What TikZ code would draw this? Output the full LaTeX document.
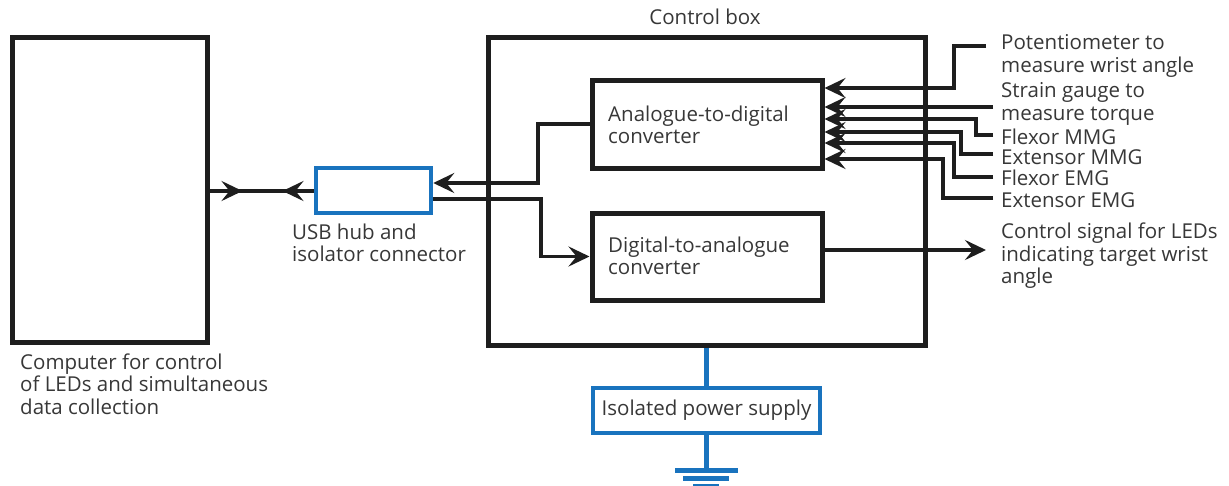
\documentclass[tikz,border=0pt]{standalone}
\usepackage{fontspec}
\setmainfont{Open Sans}
\usetikzlibrary{arrows.meta,decorations.markings}
\definecolor{ln}{RGB}{30,30,30}
\definecolor{tx}{RGB}{55,55,55}
\definecolor{bl}{RGB}{25,115,190}
\tikzset{
  box/.style={draw=ln,line width=5pt,minimum width=#1,inner sep=0pt},
  bbox/.style={draw=bl,line width=4.5pt,inner sep=0pt},
  lbl/.style={text=tx,font=\fontsize{20.5}{22.5}\selectfont,align=left,inner sep=0pt},
  wire/.style={draw=ln,line width=3.8pt},
  bwire/.style={draw=bl,line width=4.5pt},
  tip/.style={-{Stealth[length=21pt,width=20pt,inset=8pt]}},
}
\begin{document}
\begin{tikzpicture}[x=1pt,y=-1pt]
\useasboundingbox (0,0) rectangle (1229,485);
% boxes
\node[box=195pt,minimum height=305pt] (comp) at (109.5,189.5) {};
\node[box=437pt,minimum height=308pt] (cbox) at (706.5,191) {};
\node[box=230pt,minimum height=88pt] (adc) at (707,124) {};
\node[box=230pt,minimum height=87pt] (dac) at (707,256.5) {};
\node[bbox,minimum width=115pt,minimum height=45pt] (usb) at (373.5,190.5) {};
\node[bbox,minimum width=227pt,minimum height=45pt,lbl,align=center] (ps) at (706.5,410.5) {Isolated power supply};
% box texts
\node[lbl,anchor=west] (adct) at (608,125) {Analogue-to-digital\\converter};
\node[lbl,anchor=west] (dact) at (608,256) {Digital-to-analogue\\converter};
\node[lbl] (cbt) at (705,17) {Control box};
\node[lbl,anchor=west] (compt) at (20,384) {Computer for control\\of LEDs and simultaneous\\data collection};
\node[lbl,anchor=west] (usbt) at (292,243) {USB hub and\\isolator connector};
% sensor labels
\node[lbl,anchor=west] (pot) at (1001,56) {Potentiometer to\\measure wrist angle};
\node[lbl,anchor=west] (sg) at (1001,104) {Strain gauge to\\measure torque};
\node[lbl,anchor=west] (fmmg) at (1001,137) {Flexor MMG};
\node[lbl,anchor=west] (emmg) at (1001,157) {Extensor MMG};
\node[lbl,anchor=west] (femg) at (1001,178) {Flexor EMG};
\node[lbl,anchor=west] (eemg) at (1001,200) {Extensor EMG};
\node[lbl,anchor=west] (ctl) at (1001,256) {Control signal for LEDs\\indicating target wrist\\angle};
% free ends
\coordinate (potE) at (986,46);
\coordinate (sgE) at (993,107);
\coordinate (fmmgE) at (993,135);
\coordinate (emmgE) at (993,154);
\coordinate (femgE) at (993,177);
\coordinate (eemgE) at (993,198);
\coordinate (ctlE) at (986,250);
% sensor wires
\draw[wire,tip] (potE) -- (954,46) -- (954,88) -- (adc.east |- 0,88);
\draw[wire,tip] (sgE) -- (adc.east |- 0,107);
\draw[wire,tip] (fmmgE) -- (976,135) -- (976,119) -- (adc.east |- 0,119);
\draw[wire,tip] (emmgE) -- (961,154) -- (961,132) -- (adc.east |- 0,132);
\draw[wire,tip] (femgE) -- (954,177) -- (954,143) -- (adc.east |- 0,143);
\draw[wire,tip] (eemgE) -- (943,198) -- (943,159) -- (adc.east |- 0,159);
% DAC output
\draw[wire,tip] (dac.east |- 0,250) -- (ctlE);
% ADC to USB
\draw[wire,tip] (adc.west) -- (538,124) -- (538,183) -- (usb.east |- 0,183);
% USB to DAC
\draw[wire,tip] (usb.east |- 0,199) -- (541,199) -- (541,256.5) -- (dac.west);
% computer to USB
\draw[wire,postaction={decorate},decoration={markings,
  mark=at position 33pt with {\arrow{Stealth[length=21pt,width=20pt,inset=8pt]}},
  mark=at position 73pt with {\arrowreversed{Stealth[length=21pt,width=20pt,inset=8pt]}}}]
  (comp.east |- 0,191) -- (usb.west |- 0,191);
% power
\draw[bwire] (cbox.south -| ps.north) -- (ps.north);
\coordinate (gnd) at (706.5,470);
\draw[bwire] (ps.south) -- (gnd);
\draw[draw=bl,line width=5pt] (675,470) -- (738,470);
\draw[draw=bl,line width=5pt] (683,478) -- (729,478);
\draw[draw=bl,line width=5pt] (693,486) -- (719,486);
\end{tikzpicture}
\end{document}
